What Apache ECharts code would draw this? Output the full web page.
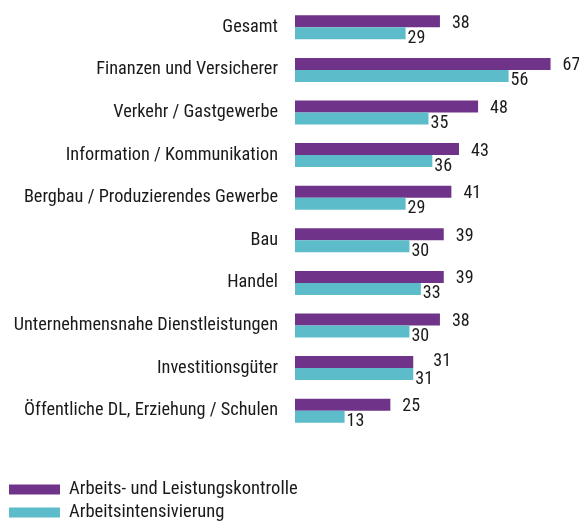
<!DOCTYPE html>
<html><head><meta charset="utf-8">
<script src="https://cdn.jsdelivr.net/npm/echarts@6/dist/echarts.min.js"></script>
<style>html,body{margin:0;padding:0;background:#fff}#c{width:579px;height:521px}</style>
</head><body><div id="c"></div>
<script>
const categories = ["Gesamt","Finanzen und Versicherer","Verkehr / Gastgewerbe","Information / Kommunikation","Bergbau / Produzierendes Gewerbe","Bau","Handel","Unternehmensnahe Dienstleistungen","Investitionsgüter","Öffentliche DL, Erziehung / Schulen"];
const kontrolle = [38,67,48,43,41,39,39,38,31,25];
const intensivierung = [29,56,35,36,29,30,33,30,31,13];
const seriesNames = ["Arbeits- und Leistungskontrolle","Arbeitsintensivierung"];
const FONT = "'Liberation Sans Narrow', 'Roboto Condensed', 'Arial Narrow', sans-serif";
// when both values are equal, the upper label is pushed further right (as in the original)
const kontrolleData = kontrolle.map((v, i) => v === intensivierung[i]
  ? {value: v, label: {distance: 20, offset: [0, -1]}} : v);
const chart = echarts.init(document.getElementById('c'), null, {renderer:'canvas'});
chart.setOption({
  animation:false,
  textStyle:{fontFamily:FONT},
  grid:{left:295, right:17, top:6, bottom:89, containLabel:false},
  xAxis:{type:'value', min:0, max:70, show:false},
  yAxis:{type:'category', data:categories, inverse:true,
    axisLine:{show:false}, axisTick:{show:false}, splitLine:{show:false},
    axisLabel:{margin:17, color:'#1a1a1a', fontSize:18.3, fontFamily:FONT}},
  legend:{orient:'vertical', left:9, top:480, height:80, padding:0, itemWidth:51, itemHeight:10, itemGap:4,
    icon:'rect', textStyle:{fontSize:18.6, color:'#1a1a1a', fontFamily:FONT, padding:[0,0,0,4]}},
  series:[
    {name:seriesNames[0], type:'bar', data:kontrolleData, barWidth:12, barGap:'0%',
     itemStyle:{color:'#6f3489'},
     label:{show:true, position:'right', distance:12, offset:[0,2], color:'#1a1a1a', fontSize:18, fontFamily:FONT}},
    {name:seriesNames[1], type:'bar', data:intensivierung, barWidth:12, barGap:'0%',
     itemStyle:{color:'#5dbcca'},
     label:{show:true, position:'right', distance:2, offset:[0,5], color:'#1a1a1a', fontSize:18, fontFamily:FONT}}
  ]
});
</script></body></html>
